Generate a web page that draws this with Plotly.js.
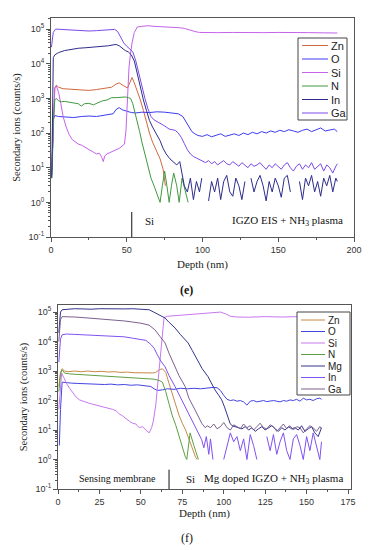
<!DOCTYPE html>
<html><head><meta charset="utf-8">
<script src="https://cdn.plot.ly/plotly-3.0.1.min.js"></script>
<style>html,body{margin:0;padding:0;background:#fff}#chart{width:370px;height:550px}</style>
</head><body><div id="chart"></div><script>
// ---------- (e) IGZO EIS + NH3 plasma ----------
const eZnX = [0.5,1.5,2.5,3.5,5,8,12,16,20,25,30,35,40,43,45,48,50.5,52,53.5,55,57,59,61,63,65,67,70,72,74,75.5];
const eZnY = [8,300,2000,2400,2100,1900,1850,1800,1750,1700,1800,1900,2100,2600,2800,2300,2000,2800,4000,2800,1600,900,450,200,100,55,30,18,9,3];

const eOX = [0.5,1,1.5,2.5,5,10,15,20,25,30,35,38,41,43,45,47,50,53,56,60,65,70,75,80,84,87,89,91,93,95,97,100,103,106,109,112,115,118,121,124,127,130,133,136,139,142,145,148,151,154,157,160,163,166,169,172,175,178,181,184,187,189];
const eOY = [6,20,250,320,300,290,280,300,310,300,320,330,360,480,540,470,420,390,380,400,390,410,400,380,360,300,220,150,110,95,85,80,90,78,85,95,80,88,95,85,100,90,105,95,110,100,115,105,120,110,125,115,105,120,130,110,125,140,115,120,130,110];

const eSiX = [0.5,1.5,2.5,3.5,5,6.5,8,10,12,14,16,18,20,22,24,26,28,30,32,33.5,34.5,35.5,37,39,41,43,45,47,48.5,49.5,50.5,51.5,52.5,53.5,55,57,60,64,68,72,76,80,84,88,92,95,98,101,105,110,120,130,140,150,160,170,180,189];
const eSiY = [10,300,2000,2300,1500,700,300,150,90,65,55,48,45,40,35,32,28,25,26,20,15,22,25,27,30,33,36,42,48,120,1500,8000,20000,40000,80000,115000,120000,125000,120000,118000,115000,115000,110000,105000,92000,85000,80000,79000,78000,79000,80000,78000,79000,80000,78000,79000,78000,77000];

const eNX = [0.5,1.5,2.5,3.5,5,7,9,12,15,18,20,22,25,28,31,34,37,40,43,46,49,51,52.5,54,55.5,57,58.5,60,62,64,66,68,70,72,73.5,75,76.5,78,79.5,81,83,84.6,86.5,88.5,90.5];
const eNY = [5,200,900,1000,850,800,820,780,750,700,600,700,720,650,750,850,900,1050,1050,1100,1100,1050,1000,700,400,200,110,55,23,11,5,3,1.8,1,3,8,3,1,3,7,3,1,5,2,1];

const eInX = [0.5,1,1.5,2.5,5,9,13,18,23,28,33,38,41,43,45,47,49,51,53,55,57,59,61,63,65,67,70,72,74,76,78.5,81,83,85,87,88,90,92,94,96,98,99.5,101,104,106,108,110,112,114,116,118,120,122,124,126,128,129,132,134,136,138,140,142,144,146,148,150,152,154,156,158,159,164,166,168,170,172,174,176,178,180,182,184,186,188,189];
const eInY = [5,100,15000,18000,21000,24000,26000,28000,29000,30000,31000,33000,35000,36000,33000,28000,24000,22000,18000,12000,5000,2000,900,450,230,150,90,60,36,25,18,14,12,15,6,3,2,5,1.2,4,2,5,null,1.1,4,2,5,1.2,4,6,2,1.5,5,3,1.2,4,null,5,2,4,6,3,1.1,4,2,5,3,1.4,5,6,2,null,4,1.2,5,3,6,2,4,1.5,5,3,6,2,5,4];

const eGaX = [0.3,1.5,3,6,10,15,20,25,30,35,40,42,44,46,48,50,52,54,56,58,60,62,64,66,68,70,72,74,76,78,80,82,84,86,88,90,92,94,96,98,100,102,104,106,108,110,112,114,116,118,120,122,124,126,128,130,132,134,136,138,140,142,144,146,148,150,152,154,156,158,160,162,164,166,168,170,172,174,176,178,180,182,184,186,188,189];
const eGaY = [30000,80000,100000,98000,95000,92000,90000,88000,90000,92000,95000,98000,85000,60000,40000,32000,27000,22000,12000,5000,2200,1000,500,300,240,210,190,170,150,130,125,120,100,75,50,33,25,21,19,17,15,14,16,13,15,12,14,16,13,12,15,13,11,14,12,10,13,11,12,14,11,9,12,10,13,11,9,12,14,10,8,11,13,9,12,10,14,9,11,13,8,12,10,7,11,13];

// ---------- (f) Mg doped IGZO + NH3 plasma ----------
const fZnX = [0.5,1.5,2.5,4,6,10,14,18,22,26,30,34,38,42,46,50,54,57,59,61,63,65,67,69,71,73,75,77,79,81,83,84];
const fZnY = [300,900,1200,1000,950,1000,950,1000,950,980,930,950,900,920,880,870,850,860,900,1100,1200,900,380,160,70,32,17,10,5,2.3,1.2,1];

const fOX = [0.8,1.5,2.5,5,8,12,16,20,24,28,32,36,40,44,48,52,56,58,60,63,66,70,74,78,82,86,90,94,96,98,100,102,104,106,108,110,112,114,116,118,120,122,124,126,128,130,132,134,136,138,140,142,144,146,148,150,152,154,156,158,159];
const fOY = [3,50,420,400,390,380,370,360,370,350,360,340,350,330,340,320,300,250,220,230,250,240,260,250,260,250,270,280,270,220,150,110,100,105,95,100,90,70,95,100,90,95,100,92,98,100,95,90,100,95,105,100,110,95,120,105,110,100,115,120,110];

const fSiX = [0.5,1.5,2.2,3.5,5,7,9,11,13,15,17,19,21,23,25,27,29,31,33,35,37,39,41,43,45,47,49,51,53,55,56.5,57.5,59,60.5,62,63,64,66,70,75,80,85,90,95,98,101,104,108,115,125,135,145,155,159];
const fSiY = [50,300,850,600,390,260,180,130,105,95,85,80,75,70,65,62,58,55,50,45,35,30,24,20,17,16,12,13,10,8,12,20,70,600,5000,25000,65000,72000,75000,78000,82000,88000,95000,100000,100000,88000,72000,68000,67000,70000,68000,70000,72000,70000];

const fNX = [0.5,1.5,2.5,4,7,10,14,18,22,26,30,34,38,42,46,50,54,58,61,63,65,67,69,71,73,75,76.7,77.7,79.7,82,84.7];
const fNY = [200,800,1100,850,800,780,750,720,700,690,670,650,640,620,600,580,560,530,480,420,200,80,30,15,6,2.5,1.3,1,8,3,1];

const fMgX = [0.5,1.5,2.5,5,10,15,20,25,30,35,40,45,50,55,58.5,61,64.6,67,70.6,74,78.5,81,84.5,87,90.5,93,94.7,97,98.8,100.5,101.8,103,103.8,105,106.8,109,111,113,115,117,119,121,123,125,127,129,131,133,135,137,139,141,143,145,147,149,151,153,155,157,159];
const fMgY = [20000,100000,120000,125000,130000,128000,125000,130000,128000,125000,128000,130000,125000,120000,95000,80000,63000,45000,29000,17000,9000,5000,2300,1200,650,350,230,150,105,60,37,25,17,14,13,12,11,13,10,12,9,11,13,10,12,14,11,9,12,10,13,11,12,10,14,9,11,13,8,6,12];

const fInX = [0.5,1.5,2.5,5,10,15,20,25,30,35,40,45,50,53,56,58,60,62,64.6,67,70.6,73,76.7,78.5,80.7,82.7,84.7,86.7,88,89.5,91,92,93.5,94,100,102,104,106,108,110,112,114,116,118,120,122,126,128,130,132,134,136,138,140,142,144,146,148,150,152,154,156,158,159];
const fInY = [2000,12000,17000,18000,17500,17000,16500,16000,15500,15000,14500,13000,12000,11000,8000,6000,3500,2200,1400,700,300,160,62,40,22,13,8,4.7,2.5,6,1.5,5,1,null,1,3,8,4,6,2,5,1,7,3,1,null,6,2,7,1.5,4,8,2,1,5,7,3,1,6,2,8,3,1,4];

const fGaX = [0.5,1.5,2.5,5,10,15,20,25,30,35,40,45,50,55,58.5,61.5,64.6,67,70.6,73,76.7,79,82.7,84.7,86.7,88.8,90,92,94,96,98,100,102,104,106,108,110,112,114,116,118,120,122,124,126,128,130,132,134,136,138,140,142,144,146,148,150,152,154,156,158,159];
const fGaY = [10000,55000,70000,70000,68000,65000,62000,60000,57000,54000,50000,46000,42000,36000,25000,15000,9000,4000,1400,700,300,120,48,30,17,12,14,12,16,11,13,18,12,10,15,13,11,16,12,14,10,13,17,12,11,15,13,9,12,16,11,14,10,13,12,8,11,14,12,9,13,11];

const eNames = ['Zn','O','Si','N','In','Ga'];
const eColors = ['#cf6a3e','#3c3cf0','#c462ea','#3f9a3f','#2c2c8c','#7a4ae8'];
const eData = [[eZnX,eZnY],[eOX,eOY],[eSiX,eSiY],[eNX,eNY],[eInX,eInY],[eGaX,eGaY]];

const fNames = ['Zn','O','Si','N','Mg','In','Ga'];
const fColors = ['#c68a48','#4444e2','#c878f0','#5fa043','#34348e','#8052f0','#7c6090'];
const fData = [[fZnX,fZnY],[fOX,fOY],[fSiX,fSiY],[fNX,fNY],[fMgX,fMgY],[fInX,fInY],[fGaX,fGaY]];

const yTickVals = [0.1,1,10,100,1000,10000,100000];
const yTickText = ['10<sup>-1</sup>','10<sup>0</sup>','10<sup>1</sup>','10<sup>2</sup>','10<sup>3</sup>','10<sup>4</sup>','10<sup>5</sup>'];

// ---------- layout helpers ----------
const W = 370, H = 550;
const PX = x => x / W, PY = y => 1 - y / H;
const minorVals = [];
for (let d = -1; d <= 5; d++) for (let m = 2; m <= 9; m++) minorVals.push(m * Math.pow(10, d));

const traces = [];
eData.forEach((s, i) => traces.push({x: s[0], y: s[1], type: 'scatter', mode: 'lines', name: eNames[i],
  line: {color: eColors[i], width: 1}, xaxis: 'x', yaxis: 'y', showlegend: false}));
fData.forEach((s, i) => traces.push({x: s[0], y: s[1], type: 'scatter', mode: 'lines', name: fNames[i],
  line: {color: fColors[i], width: 1}, xaxis: 'x2', yaxis: 'y2', showlegend: false}));

const tickFont = {family: 'Liberation Sans, Arial, sans-serif', size: 9, color: '#333'};
const serif = 'Liberation Serif, Times New Roman, serif';
function xAxis(dom, rng, tv, mdt, anchor, so) {
  return {domain: dom, range: rng, anchor: anchor, tickvals: tv, ticks: 'outside', ticklen: 4,
    tickcolor: '#555', showline: true, mirror: true, linecolor: '#555', linewidth: 1,
    showgrid: false, zeroline: false, tickfont: tickFont,
    minor: {dtick: mdt, ticks: 'outside', ticklen: 2, tickcolor: '#555', showgrid: false},
    title: {text: 'Depth (nm)', font: {family: serif, size: 11, color: '#222'}, standoff: so}};
}
function yAxis(dom, rng, anchor) {
  return {domain: dom, type: 'log', range: rng, anchor: anchor, tickmode: 'array',
    tickvals: yTickVals, ticktext: yTickText, ticks: 'outside', ticklen: 4, tickcolor: '#555',
    showline: true, mirror: true, linecolor: '#555', linewidth: 1, showgrid: false, zeroline: false,
    tickfont: tickFont,
    minor: {tickmode: 'array', tickvals: minorVals, ticks: 'outside', ticklen: 2, tickcolor: '#555', showgrid: false},
    title: {text: 'Secondary ions (counts/s)', font: {family: serif, size: 10.5, color: '#222'}, standoff: 5}};
}

const shapes = [], annotations = [];
function legend(names, colors, bx0, bx1, by0, by1, lx0, lx1, tx, ys, fs) {
  shapes.push({type: 'rect', xref: 'paper', yref: 'paper', x0: PX(bx0), x1: PX(bx1), y0: PY(by1), y1: PY(by0),
    line: {color: '#444', width: 1}, fillcolor: '#fff'});
  names.forEach((n, i) => {
    shapes.push({type: 'line', xref: 'paper', yref: 'paper', x0: PX(lx0), x1: PX(lx1), y0: PY(ys[i]), y1: PY(ys[i]),
      line: {color: colors[i], width: 1}});
    annotations.push({xref: 'paper', yref: 'paper', x: PX(tx), y: PY(ys[i]), text: n, showarrow: false,
      xanchor: 'left', yanchor: 'middle', font: {family: 'Liberation Sans, Arial, sans-serif', size: fs, color: '#222'}});
  });
}
legend(eNames, eColors, 298, 347, 38, 120, 302, 328, 329, [45.5, 59, 72.5, 86, 99.5, 113], 11);
legend(fNames, fColors, 297, 350, 312, 395, 301, 325, 326, [320, 331.5, 343, 354.5, 366, 377.5, 389], 10);

// interface markers and text
shapes.push({type: 'line', xref: 'x', yref: 'y domain', x0: 53.3, x1: 53.3, y0: 0, y1: 0.114, line: {color: '#111', width: 1}});
shapes.push({type: 'line', xref: 'x2', yref: 'y2 domain', x0: 67, x1: 67, y0: 0, y1: 0.105, line: {color: '#111', width: 1}});
const tf = (s) => ({family: serif, size: s, color: '#111'});
annotations.push({xref: 'x', yref: 'y', x: 65, y: -0.55, text: 'Si', showarrow: false, font: tf(11)});
annotations.push({xref: 'x', yref: 'y', x: 194, y: -0.55, text: 'IGZO EIS + NH<sub>3</sub> plasma', xanchor: 'right', showarrow: false, font: tf(11)});
annotations.push({xref: 'x2', yref: 'y2', x: 35.6, y: -0.66, text: 'Sensing membrane', showarrow: false, font: tf(10)});
annotations.push({xref: 'x2', yref: 'y2', x: 79.7, y: -0.66, text: 'Si', showarrow: false, font: tf(11)});
annotations.push({xref: 'x2', yref: 'y2', x: 173, y: -0.66, text: 'Mg doped IGZO + NH<sub>3</sub> plasma', xanchor: 'right', showarrow: false, font: tf(11)});
annotations.push({xref: 'paper', yref: 'paper', x: PX(187), y: PY(290), yanchor: 'middle', text: '<b>(e)</b>', showarrow: false, font: tf(12)});
annotations.push({xref: 'paper', yref: 'paper', x: PX(187), y: PY(538), yanchor: 'middle', text: '(f)', showarrow: false, font: tf(12)});

const layout = {
  width: W, height: H, margin: {l: 0, r: 0, t: 0, b: 0},
  paper_bgcolor: '#fff', plot_bgcolor: '#fff', showlegend: false,
  xaxis: xAxis([PX(51), PX(354)], [0, 200], [0, 50, 100, 150, 200], 25, 'y', 6),
  yaxis: yAxis([PY(237), PY(18)], [-1, 5.32], 'x'),
  xaxis2: xAxis([PX(58), PX(351)], [0, 176.8], [0, 25, 50, 75, 100, 125, 150, 175], 12.5, 'y2', 2),
  yaxis2: yAxis([PY(489), PY(305)], [-1, 5.24], 'x2'),
  shapes: shapes, annotations: annotations
};
Plotly.newPlot('chart', traces, layout, {displayModeBar: false, staticPlot: true});
</script></body></html>
